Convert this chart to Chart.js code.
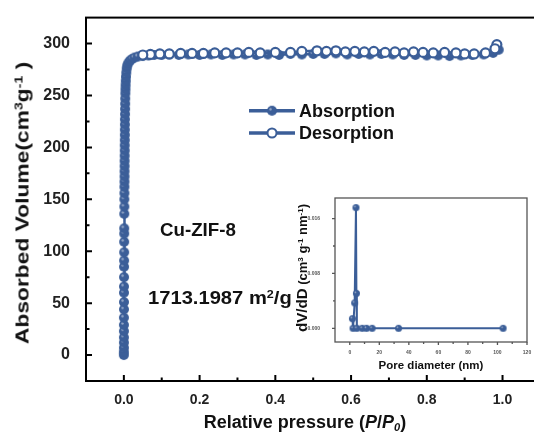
<!DOCTYPE html>
<html>
<head>
<meta charset="utf-8">
<script src="https://cdn.jsdelivr.net/npm/chart.js@4/dist/chart.umd.min.js"></script>
<style>
    html, body { margin: 0; padding: 0; background: #fff; overflow: hidden; }
    #wrap { position: relative; width: 534px; height: 439px; overflow: hidden; font-family: "Liberation Sans", Arial, sans-serif; }
    #main { position: absolute; left: 0; top: 0; }
    #inset { position: absolute; left: 290px; top: 188px; }
    .lbl { position: absolute; font-weight: bold; color: #111; white-space: nowrap; line-height: 1; }
    .sup { font-size: 0.62em; position: relative; top: -0.55em; }
    .sub { font-size: 0.62em; position: relative; top: 0.3em; }
</style>
</head>
<body>
<div id="wrap">
    <canvas id="main" width="560" height="439"></canvas>
    <canvas id="inset" width="244" height="185"></canvas>

    <div class="lbl" style="left:22px; top:203px; font-size:19px; transform: translate(-50%,-50%) rotate(-90deg) scaleX(1.2);">Absorbed Volume(cm<span class="sup">3</span>g<span class="sup">-1</span> )</div>
    <div class="lbl" style="left:305px; top:422px; font-size:18px; transform: translate(-50%,-50%);">Relative pressure (<i>P</i>/<i>P<span class="sub">0</span></i>)</div>
    <div class="lbl" style="left:160px; top:230px; font-size:18px; transform-origin: left center; transform: translateY(-50%) scaleX(1.04);">Cu-ZIF-8</div>
    <div class="lbl" style="left:148px; top:298px; font-size:18px; transform-origin: left center; transform: translateY(-50%) scaleX(1.12);">1713.1987 m<span class="sup">2</span>/g</div>

    <div class="lbl" style="left:431px; top:366px; font-size:11.5px; transform: translate(-50%,-50%);">Pore diameter (nm)</div>
    <div class="lbl" style="left:302px; top:268px; font-size:12px; transform: translate(-50%,-50%) rotate(-90deg) scaleX(1.08);"><span style="font-size:14px">dV/dD</span> (cm<span class="sup">3</span> g<span class="sup">-1</span> nm<span class="sup">-1</span>)</div>
</div>

<script>
const BLUE = '#3b5e98';
const FONT = '"Liberation Sans", Arial, sans-serif';

// Nitrogen isotherm, adsorption branch (P/P0, cm3/g)
const adsP = [0.00001, 0.00002, 0.00003, 0.00005, 0.00007, 0.0001, 0.00012, 0.00015, 0.0002, 0.00025,
    0.0003, 0.00035, 0.0004, 0.0005, 0.0006, 0.0007, 0.0008, 0.0009, 0.001, 0.0011,
    0.0012, 0.0013, 0.0014, 0.0015, 0.0016, 0.0017, 0.0018, 0.0019, 0.002, 0.0021,
    0.0022, 0.0023, 0.0024, 0.0025, 0.0026, 0.0027, 0.0028, 0.003, 0.0032, 0.0034,
    0.0036, 0.0039, 0.0042, 0.0046, 0.005, 0.0056, 0.0064, 0.0075,
    0.009, 0.012, 0.016, 0.021, 0.028, 0.037, 0.05, 0.065, 0.08, 0.10,
    0.12, 0.145, 0.17, 0.20, 0.23, 0.26, 0.29, 0.32, 0.35, 0.38,
    0.41, 0.44, 0.47, 0.50, 0.53, 0.56, 0.59, 0.62, 0.65, 0.68,
    0.71, 0.74, 0.77, 0.80, 0.83, 0.86, 0.89, 0.92, 0.95, 0.975, 0.99];
const adsV = [0, 3, 7, 12, 17, 23, 29, 36, 44, 51,
    60, 66, 75, 85, 91, 99, 109, 117, 122, 136,
    143, 150, 156, 162, 167, 172, 177, 182, 187, 192,
    197, 202, 207, 212, 217, 222, 227, 232, 237, 242,
    247, 252, 256, 260, 264, 268, 272, 276,
    279, 281.5, 283.5, 285, 286.5, 287.5, 288, 288.5, 289, 289,
    289.5, 289, 289.5, 289, 289.5, 289, 289.5, 289.5, 289, 289.5,
    289, 290, 289.5, 290, 290, 290.5, 289.5, 290, 289.5, 290,
    289.5, 289, 289, 288.5, 288.5, 288, 288.5, 289, 289.5, 291, 294];

// desorption branch
const desP = [0.985, 0.98, 0.955, 0.925, 0.9, 0.877, 0.847, 0.817, 0.79, 0.765,
    0.74, 0.716, 0.69, 0.66, 0.635, 0.61, 0.585, 0.56, 0.535, 0.51,
    0.47, 0.44, 0.40, 0.36, 0.33, 0.30, 0.27, 0.24, 0.21, 0.18,
    0.15, 0.12, 0.095, 0.07, 0.05];
const desV = [299, 295, 291, 290, 290, 291, 291.5, 291, 291.5, 292,
    291, 292, 291.5, 292.5, 292, 292.5, 292, 293, 292.5, 293,
    292.5, 291.5, 291.5, 291, 291.5, 291, 291, 291, 290.5, 290.5,
    290.5, 290, 290, 289.5, 289];

// pore size distribution (inset)
const poreD = [1.8, 2.2, 3.3, 4.2, 4.5, 4.8, 8.4, 11.3, 15.1, 33, 103.8];
const dVdD = [0.0014, 0.0000, 0.0037, 0.0176, 0.0051, 0.0000, 0.0000, 0.0000, 0.0000, 0.0000, 0.0000];

// ticks
const xTicks = [0, 0.2, 0.4, 0.6, 0.8, 1.0];
const xMinor = [0.1, 0.3, 0.5, 0.7, 0.9];
const yTicks = [0, 50, 100, 150, 200, 250, 300];
const yMinor = [25, 75, 125, 175, 225, 275];
const insetXTicks = [0, 20, 40, 60, 80, 100, 120];
const insetXMinor = [10, 30, 50, 70, 90, 110];
const insetYTicks = [0, 0.008, 0.016];
const insetYMinor = [0.004, 0.012];

function toPoints(xs, ys) {
    return xs.map((x, i) => ({ x: x, y: ys[i] }));
}

// filled circle with a small glossy highlight
function makeMarker(r) {
    const c = document.createElement('canvas');
    const s = Math.ceil(r * 2 + 2);
    c.width = s; c.height = s;
    const g = c.getContext('2d');
    g.fillStyle = BLUE;
    g.beginPath(); g.arc(s / 2, s / 2, r, 0, Math.PI * 2); g.fill();
    g.fillStyle = 'rgba(255,255,255,0.45)';
    g.beginPath(); g.arc(s / 2 - r * 0.3, s / 2 - r * 0.3, r * 0.25, 0, Math.PI * 2); g.fill();
    return c;
}
const adsMarker = makeMarker(5);
const insetMarker = makeMarker(3.5);

// frame box plus tick marks drawn from the scales
const frameTicks = {
    id: 'frameTicks',
    afterDraw(chart, args, opts) {
        const ctx = chart.ctx;
        const a = chart.chartArea;
        const xs = chart.scales.x, ys = chart.scales.y;
        const dir = opts.inward ? -1 : 1;
        ctx.save();
        ctx.strokeStyle = opts.color;
        ctx.lineWidth = opts.width;
        ctx.strokeRect(a.left, a.top, a.right - a.left, a.bottom - a.top);
        ctx.beginPath();
        xs.ticks.forEach(t => {
            const px = xs.getPixelForValue(t.value);
            ctx.moveTo(px, a.bottom); ctx.lineTo(px, a.bottom + dir * opts.majorLen);
        });
        opts.xMinor.forEach(v => {
            const px = xs.getPixelForValue(v);
            ctx.moveTo(px, a.bottom); ctx.lineTo(px, a.bottom + dir * opts.minorLen);
        });
        ys.ticks.forEach(t => {
            const py = ys.getPixelForValue(t.value);
            ctx.moveTo(a.left, py); ctx.lineTo(a.left - dir * opts.majorLen, py);
        });
        opts.yMinor.forEach(v => {
            const py = ys.getPixelForValue(v);
            ctx.moveTo(a.left, py); ctx.lineTo(a.left - dir * opts.minorLen, py);
        });
        ctx.stroke();
        ctx.restore();
    }
};

// legend inside the plot: line with marker, then label
const insideLegend = {
    id: 'insideLegend',
    afterDraw(chart, args, opts) {
        const ctx = chart.ctx;
        ctx.save();
        chart.data.datasets.forEach((ds, i) => {
            const y = opts.y + i * opts.gap;
            ctx.strokeStyle = BLUE;
            ctx.lineWidth = 3.5;
            ctx.beginPath(); ctx.moveTo(opts.x, y); ctx.lineTo(opts.x + opts.len, y); ctx.stroke();
            const cx = opts.x + opts.len / 2;
            if (ds.pointStyle === adsMarker) {
                ctx.drawImage(adsMarker, cx - adsMarker.width / 2, y - adsMarker.height / 2);
            } else {
                ctx.fillStyle = '#fff';
                ctx.lineWidth = 2;
                ctx.beginPath(); ctx.arc(cx, y, 4.5, 0, Math.PI * 2); ctx.fill(); ctx.stroke();
            }
            ctx.fillStyle = '#111';
            ctx.font = 'bold 18px ' + FONT;
            ctx.textBaseline = 'middle';
            ctx.fillText(ds.label, opts.x + opts.len + 4, y + 1);
        });
        ctx.restore();
    }
};

new Chart(document.getElementById('main'), {
    type: 'scatter',
    data: {
        datasets: [{
            label: 'Absorption',
            data: toPoints(adsP, adsV),
            showLine: true,
            borderColor: BLUE,
            borderWidth: 2.5,
            pointStyle: adsMarker,
            pointRadius: 5,
            order: 1
        }, {
            label: 'Desorption',
            data: toPoints(desP, desV),
            showLine: true,
            borderColor: BLUE,
            borderWidth: 2.5,
            pointStyle: 'circle',
            pointRadius: 4.5,
            pointBorderWidth: 2.2,
            pointBorderColor: BLUE,
            pointBackgroundColor: '#fff',
            order: 0
        }]
    },
    options: {
        responsive: false,
        animation: false,
        layout: { padding: { top: 15, right: 560 - 540.4, left: 0, bottom: 0 } },
        plugins: {
            legend: { display: false },
            tooltip: { enabled: false },
            frameTicks: { color: '#000', width: 2, majorLen: 6, minorLen: 3.5, inward: true, xMinor: xMinor, yMinor: yMinor },
            insideLegend: { x: 249, y: 110.7, gap: 22.3, len: 46 }
        },
        scales: {
            x: {
                type: 'linear',
                min: -0.1,
                max: 1.1,
                grid: { display: false },
                border: { display: false },
                afterBuildTicks: s => { s.ticks = xTicks.map(v => ({ value: v })); },
                afterFit: s => { s.height = 58; },
                ticks: {
                    callback: v => v.toFixed(1),
                    font: { family: FONT, size: 14, weight: 'bold' },
                    color: '#222',
                    padding: 3,
                    maxRotation: 0,
                    autoSkip: false
                }
            },
            y: {
                type: 'linear',
                min: -25,
                max: 325,
                grid: { display: false },
                border: { display: false },
                afterBuildTicks: s => { s.ticks = yTicks.map(v => ({ value: v })); },
                afterFit: s => { s.width = 86; },
                ticks: {
                    callback: v => String(v),
                    font: { family: FONT, size: 16, weight: 'bold' },
                    color: '#222',
                    padding: 8,
                    autoSkip: false
                }
            }
        }
    },
    plugins: [frameTicks, insideLegend]
});

new Chart(document.getElementById('inset'), {
    type: 'scatter',
    data: {
        datasets: [{
            label: 'PSD',
            data: toPoints(poreD, dVdD),
            showLine: true,
            borderColor: BLUE,
            borderWidth: 2,
            pointStyle: insetMarker,
            pointRadius: 3.5
        }]
    },
    options: {
        responsive: false,
        animation: false,
        layout: { padding: { top: 7, right: 7, left: 0, bottom: 0 } },
        plugins: {
            legend: { display: false },
            tooltip: { enabled: false },
            frameTicks: { color: '#555', width: 1.3, majorLen: 3, minorLen: 2, inward: false, xMinor: insetXMinor, yMinor: insetYMinor }
        },
        scales: {
            x: {
                type: 'linear',
                min: -10,
                max: 120,
                grid: { display: false },
                border: { display: false },
                afterBuildTicks: s => { s.ticks = insetXTicks.map(v => ({ value: v })); },
                afterFit: s => { s.height = 31; },
                ticks: {
                    callback: v => String(v),
                    font: { family: FONT, size: 5, weight: 'bold' },
                    color: '#555',
                    padding: 0,
                    maxRotation: 0,
                    autoSkip: false
                }
            },
            y: {
                type: 'linear',
                min: -0.002,
                max: 0.019,
                grid: { display: false },
                border: { display: false },
                afterBuildTicks: s => { s.ticks = insetYTicks.map(v => ({ value: v })); },
                afterFit: s => { s.width = 45; },
                ticks: {
                    callback: v => v.toFixed(3),
                    font: { family: FONT, size: 5, weight: 'bold' },
                    color: '#555',
                    padding: 7,
                    autoSkip: false
                }
            }
        }
    },
    plugins: [frameTicks]
});
</script>
</body>
</html>
